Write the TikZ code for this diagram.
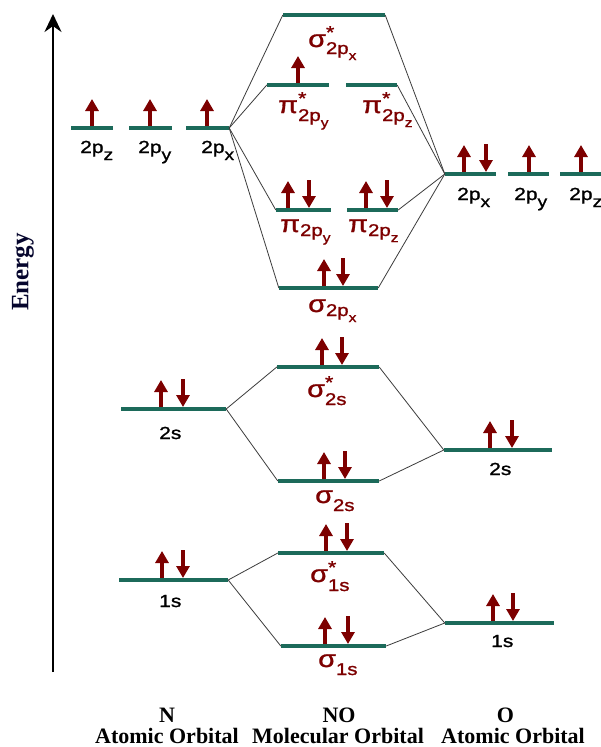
\documentclass[tikz,border=0pt]{standalone}
\usepackage{fontspec}
\usetikzlibrary{arrows.meta}
\newfontfamily\lblfont[FakeStretch=1.2,FakeBold=1.2]{Liberation Sans}
\newfontfamily\capfont{Liberation Serif}
\definecolor{levelteal}{RGB}{28,106,90}
\definecolor{spinred}{RGB}{125,0,0}
\definecolor{energyblue}{RGB}{5,5,45}
\definecolor{linkgray}{RGB}{60,60,60}

% atomic orbital label: main part and lowered letter
\newcommand\aolab[2]{{\fontsize{17.5}{18}\selectfont #1}\raisebox{-7pt}{\fontsize{16}{16}\selectfont #2}}
% molecular orbital label: greek letter, star, subscript, sub-subscript, drop
\newcommand\molab[5]{{\fontsize{24}{24}\selectfont #1}\rlap{\raisebox{8.5pt}{\fontsize{18}{18}\selectfont #2}}\raisebox{-#5}{\fontsize{17}{17}\selectfont #3\raisebox{-6pt}{\fontsize{13}{13}\selectfont #4}}}
% electron spins on a level node, x offset from its centre
\newcommand\spinup[2]{\draw[spin] ([xshift=#2]#1.center) ++(0,-2) -- ++(0,-27);}
\newcommand\spindown[2]{\draw[spin] ([xshift=#2]#1.center) ++(0,-30) -- ++(0,28);}

\begin{document}
\begin{tikzpicture}[x=1pt, y=-1pt,
  lvl/.style={rectangle, fill=levelteal, draw=none, minimum height=4pt, inner sep=0pt},
  link/.style={draw=linkgray, line width=0.8pt},
  spin/.style={draw=spinred, line width=4.5pt, -{Triangle[length=12pt,width=13pt]}},
  ao/.style={font=\lblfont, text=black, inner sep=0pt, anchor=base west},
  mo/.style={font=\lblfont, text=spinred, inner sep=0pt, anchor=base west},
  caption/.style={font=\capfont\bfseries\fontsize{22}{22}\selectfont, text=black, inner sep=0pt, anchor=base}]
\fill[white] (0,0) rectangle (601,747);
\useasboundingbox (0,0) rectangle (601,747);

% energy axis
\coordinate (ebot) at (53,672);
\coordinate (etop) at (53,14);
\draw[line width=2.5pt, -{Stealth[length=18pt,width=17pt,inset=6pt]}] (ebot) -- (etop);
\node[rotate=90, font=\capfont\bfseries\fontsize{25}{25}\selectfont, text=energyblue] (energy) at (23,272) {Energy};

% N atomic levels
\node[lvl, minimum width=42pt] (n2pz) at (92,128) {};
\node[lvl, minimum width=43pt] (n2py) at (150.5,128) {};
\node[lvl, minimum width=43pt] (n2px) at (207.5,128) {};
\node[lvl, minimum width=105pt] (n2s) at (173.5,409) {};
\node[lvl, minimum width=109pt] (n1s) at (173.5,580) {};

% molecular levels
\node[lvl, minimum width=102pt] (sa2px) at (334,15) {};
\node[lvl, minimum width=62pt] (pa2py) at (298,85) {};
\node[lvl, minimum width=51pt] (pa2pz) at (371.5,85) {};
\node[lvl, minimum width=55pt] (pb2py) at (303.5,210) {};
\node[lvl, minimum width=51pt] (pb2pz) at (372.5,210) {};
\node[lvl, minimum width=99pt] (sb2px) at (328.5,288) {};
\node[lvl, minimum width=102pt] (sa2s) at (328,367) {};
\node[lvl, minimum width=101pt] (sb2s) at (328.5,481) {};
\node[lvl, minimum width=106pt] (sa1s) at (331,553) {};
\node[lvl, minimum width=105pt] (sb1s) at (333.5,646) {};

% O atomic levels
\node[lvl, minimum width=51pt] (o2px) at (470.5,174) {};
\node[lvl, minimum width=41pt] (o2py) at (528.5,174) {};
\node[lvl, minimum width=43pt] (o2pz) at (581.5,174) {};
\node[lvl, minimum width=108pt] (o2s) at (498,450) {};
\node[lvl, minimum width=109pt] (o1s) at (499.5,623) {};

% correlation lines
\foreach \m in {sa2px,pa2py,pb2py,sb2px} \draw[link] (n2px.east) -- (\m.west);
\foreach \m in {sa2px,pa2pz,pb2pz,sb2px} \draw[link] (o2px.west) -- (\m.east);
\foreach \m in {sa2s,sb2s} {\draw[link] (n2s.east) -- (\m.west); \draw[link] (o2s.west) -- (\m.east);}
\foreach \m in {sa1s,sb1s} {\draw[link] (n1s.east) -- (\m.west); \draw[link] (o1s.west) -- (\m.east);}

% electrons
\spinup{n2pz}{0pt} \spinup{n2py}{-0.5pt} \spinup{n2px}{-0.5pt}
\spinup{n2s}{-12.5pt} \spindown{n2s}{9.5pt}
\spinup{n1s}{-11.5pt} \spindown{n1s}{9.5pt}
\spinup{pa2py}{0pt}
\spinup{pb2py}{-15.5pt} \spindown{pb2py}{5.5pt}
\spinup{pb2pz}{-6.5pt} \spindown{pb2pz}{14.5pt}
\spinup{sb2px}{-4.5pt} \spindown{sb2px}{14.5pt}
\spinup{sa2s}{-6pt} \spindown{sa2s}{14pt}
\spinup{sb2s}{-4.5pt} \spindown{sb2s}{16.5pt}
\spinup{sa1s}{-5pt} \spindown{sa1s}{16pt}
\spinup{sb1s}{-8.5pt} \spindown{sb1s}{14.5pt}
\spinup{o2px}{-6.5pt} \spindown{o2px}{15.5pt}
\spinup{o2py}{0.5pt} \spinup{o2pz}{-0.5pt}
\spinup{o2s}{-8pt} \spindown{o2s}{14pt}
\spinup{o1s}{-6.5pt} \spindown{o1s}{13.5pt}

% atomic labels
\node[ao] (l-n2pz) at (80,153) {\aolab{2p}{z}};
\node[ao] (l-n2py) at (138,153) {\aolab{2p}{y}};
\node[ao] (l-n2px) at (201,153) {\aolab{2p}{x}};
\node[ao] (l-n2s) at (159,439) {\aolab{2s}{}};
\node[ao] (l-n1s) at (159,607) {\aolab{1s}{}};
\node[ao] (l-o2px) at (457,200) {\aolab{2p}{x}};
\node[ao] (l-o2py) at (514,200) {\aolab{2p}{y}};
\node[ao] (l-o2pz) at (569,200) {\aolab{2p}{z}};
\node[ao] (l-o2s) at (489,475) {\aolab{2s}{}};
\node[ao] (l-o1s) at (491,647) {\aolab{1s}{}};

% molecular labels
\node[mo] (l-sa2px) at (308,47) {\molab{σ}{*}{2p}{x}{7pt}};
\node[mo] (l-pa2py) at (278,113) {\molab{π}{*}{2p}{y}{8pt}};
\node[mo] (l-pa2pz) at (362,113) {\molab{π}{*}{2p}{z}{8pt}};
\node[mo] (l-pb2py) at (280,232) {\molab{π}{}{2p}{y}{4pt}};
\node[mo] (l-pb2pz) at (348,232) {\molab{π}{}{2p}{z}{4pt}};
\node[mo] (l-sb2px) at (308,312) {\molab{σ}{}{2p}{x}{4pt}};
\node[mo] (l-sa2s) at (307,397) {\molab{σ}{*}{2s}{}{8pt}};
\node[mo] (l-sb2s) at (315,503) {\molab{σ}{}{2s}{}{8pt}};
\node[mo] (l-sa1s) at (310,582) {\molab{σ}{*}{1s}{}{9pt}};
\node[mo] (l-sb1s) at (318,667) {\molab{σ}{}{1s}{}{8pt}};

% captions
\node[caption] (c-n) at (167,722) {N};
\node[caption] (c-nao) at (167,743) {Atomic Orbital};
\node[caption] (c-no) at (339,722) {NO};
\node[caption] (c-nomo) at (338,743) {Molecular Orbital};
\node[caption] (c-o) at (505.5,722) {O};
\node[caption] (c-oao) at (513,743) {Atomic Orbital};
\end{tikzpicture}
\end{document}
